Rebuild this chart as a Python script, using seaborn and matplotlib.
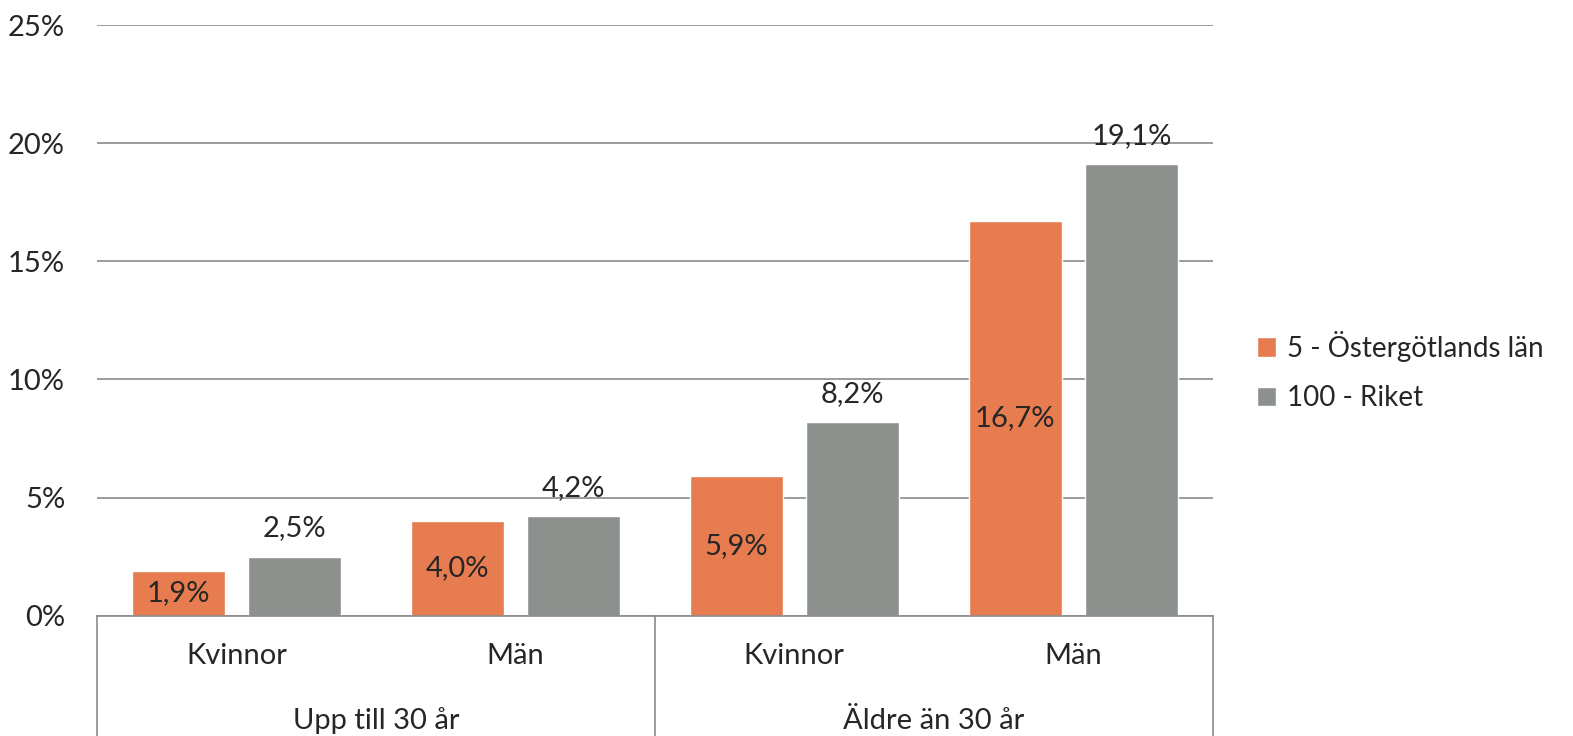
import pandas as pd
import numpy as np
import seaborn as sns
import matplotlib.pyplot as plt
import matplotlib.transforms as mtransforms

groups = ['Upp till 30 år', 'Upp till 30 år', 'Äldre än 30 år', 'Äldre än 30 år']
genders = ['Kvinnor', 'Män', 'Kvinnor', 'Män']
series = ['5 - Östergötlands län', '100 - Riket']
ostergotland = [1.9, 4.0, 5.9, 16.7]
riket = [2.5, 4.2, 8.2, 19.1]
yticks = [0, 5, 10, 15, 20, 25]

cats = [g + ' | ' + k for g, k in zip(groups, genders)]
df = pd.DataFrame({
    'cat': cats * 2,
    'serie': [series[0]] * 4 + [series[1]] * 4,
    'value': ostergotland + riket,
})

sns.set_style('white')
plt.rcParams['font.family'] = ['Lato', 'DejaVu Sans']
fs = 21

fig = plt.figure(figsize=(15.73, 7.36), dpi=100)
ax = fig.add_axes([0.0617, 0.1635, 0.7092, 0.8025])

sns.barplot(data=df, x='cat', y='value', hue='serie', order=cats, hue_order=series,
            palette=['#E67C4F', '#8C918E'], width=0.834, gap=0.2, saturation=1,
            ax=ax)

ax.set_ylim(0, 25)
ax.set_xlim(-0.5, 3.5)
ax.set_yticks(yticks)
ax.set_yticklabels([f'{t}%' for t in yticks], fontsize=fs)
ax.yaxis.grid(True, color='#8a8a8a', linewidth=1.2)
ax.set_axisbelow(True)
for s in ['top', 'right', 'left']:
    ax.spines[s].set_visible(False)
ax.spines['bottom'].set_color('#8a8a8a')
ax.spines['bottom'].set_linewidth(1.2)
ax.tick_params(axis='y', length=0, pad=23)
ax.set_xticks(range(4))
ax.set_xticklabels(genders, fontsize=fs)
ax.tick_params(axis='x', length=0, pad=20)
ax.set_xlabel('')
ax.set_ylabel('')

fmt = lambda v: f'{v:.1f}%'.replace('.', ',')
ax.bar_label(ax.containers[0], labels=[fmt(v) for v in ostergotland],
             label_type='center', fontsize=fs)
ax.bar_label(ax.containers[1], labels=[fmt(v) for v in riket],
             label_type='edge', padding=11, fontsize=fs)

trans = mtransforms.blended_transform_factory(ax.transData, ax.transAxes)
for xs in [-0.5, 1.5, 3.5]:
    ax.plot([xs, xs], [0, -0.21], color='#8a8a8a', linewidth=1.2,
            transform=trans, clip_on=False)
for xc, g in [(0.5, groups[0]), (2.5, groups[2])]:
    ax.text(xc, -0.178, g, transform=trans, ha='center', va='center', fontsize=fs)

sns.move_legend(ax, 'center left', bbox_to_anchor=(1.017, 0.414), frameon=False,
                title=None, fontsize=20, handlelength=0.7, handleheight=0.7,
                handletextpad=0.4, labelspacing=0.85)

fig.savefig('out.png', dpi=100)
